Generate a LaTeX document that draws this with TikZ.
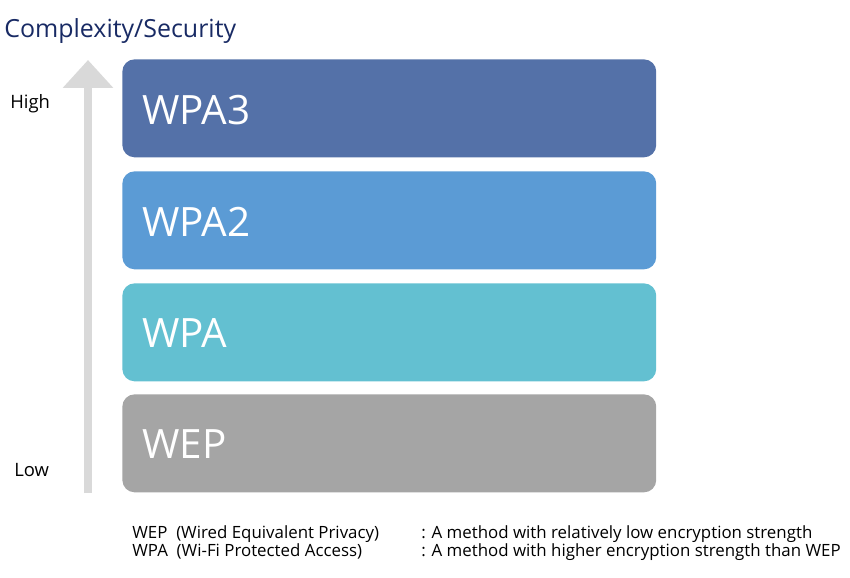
\documentclass[tikz,border=0pt]{standalone}
\usepackage{fontspec}
\setmainfont{Open Sans}
\definecolor{navy}{RGB}{24,42,100}
\definecolor{wpathree}{RGB}{84,113,168}
\definecolor{wpatwo}{RGB}{91,155,213}
\definecolor{wpaone}{RGB}{99,192,209}
\definecolor{wepgray}{RGB}{165,165,165}
\definecolor{arrowgray}{RGB}{217,217,217}
\usetikzlibrary{arrows.meta,positioning}

\begin{document}
\begin{tikzpicture}[x=0.02cm,y=-0.02cm,
  levelbox/.style={rounded corners=7pt,minimum width=10.68cm,minimum height=1.96cm,
               anchor=north west,inner sep=0pt},
  levellabel/.style={anchor=west,text=white,font=\fontsize{23}{26}\selectfont},
  sidelabel/.style={anchor=west,font=\fontsize{10.5}{12}\selectfont},
  notetext/.style={anchor=base west,font=\fontsize{9.6}{11}\selectfont}]

  \useasboundingbox (0,0) rectangle (850,578);

  \node[anchor=west,text=navy,font=\fontsize{14.2}{16}\selectfont,inner sep=0pt]
       (title) at (4,31) {Complexity/Security};

  \coordinate (base) at (88,493);
  \coordinate (tip)  at (88,60);
  \draw[arrowgray,line width=0.16cm,-{Triangle[length=0.56cm,width=0.98cm]}]
       (base) -- (tip);

  \node[sidelabel,inner sep=0pt] (high) at (10,104) {High};
  \node[sidelabel,inner sep=0pt] (low)  at (14,470) {Low};

  \node[levelbox,fill=wpathree] (L3) at (122,59)  {};
  \node[levelbox,fill=wpatwo]   (L2) at (122,171) {};
  \node[levelbox,fill=wpaone]   (L1) at (122,283) {};
  \node[levelbox,fill=wepgray]  (L0) at (122,394) {};

  \node[levellabel] (t3) at (136,110) {WPA3};
  \node[levellabel] (t2) at (136,222) {WPA2};
  \node[levellabel] (t1) at (136,333) {WPA};
  \node[levellabel] (t0) at (136,444) {WEP};

  \node[notetext,inner sep=0pt] (wepname) at (132,538) {WEP\ \ (Wired Equivalent Privacy)};
  \node[notetext,inner sep=0pt] (wpaname) at (132,556) {WPA\ \ (Wi-Fi Protected Access)};
  \node[notetext,inner sep=0pt] (wepnote) at (421,538) {: A method with relatively low encryption strength};
  \node[notetext,inner sep=0pt] (wpanote) at (421,556) {: A method with higher encryption strength than WEP};
\end{tikzpicture}
\end{document}
